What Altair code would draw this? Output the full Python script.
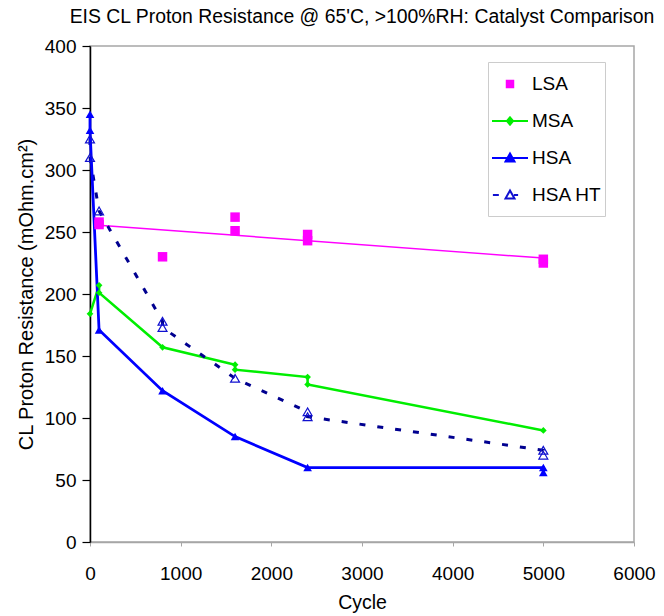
import altair as alt
import pandas as pd

# ---- data ----
lsa_cycle = [100, 100, 800, 1600, 1600, 2400, 2400, 5000, 5000]
lsa_value = [256, 258, 230, 262, 251, 248, 243, 228, 225]

msa_cycle = [0, 100, 100, 800, 1600, 1600, 2400, 2400, 5000]
msa_value = [184, 207, 201, 157, 143, 139, 133, 127, 90]

hsa_cycle = [0, 0, 100, 800, 1600, 2400, 5000, 5000]
hsa_value = [345, 332, 171, 122, 85, 60, 60, 56]

hsaht_cycle = [0, 0, 100, 800, 800, 1600, 2400, 2400, 5000, 5000]
hsaht_value = [325, 310, 267, 178, 173, 132, 105, 101, 74, 70]

series_names = ["LSA", "MSA", "HSA", "HSA HT"]
x_ticks = [0, 1000, 2000, 3000, 4000, 5000, 6000]
y_ticks = [0, 50, 100, 150, 200, 250, 300, 350, 400]

title_text = "EIS CL Proton Resistance @ 65'C, >100%RH: Catalyst Comparison"
x_title = "Cycle"
y_title = "CL Proton Resistance (mOhm.cm\u00b2)"

rows = []
for name, xs, ys in [("LSA", lsa_cycle, lsa_value), ("MSA", msa_cycle, msa_value),
                     ("HSA", hsa_cycle, hsa_value), ("HSA HT", hsaht_cycle, hsaht_value)]:
    for i, (c, v) in enumerate(zip(xs, ys)):
        rows.append({"series": name, "cycle": c, "value": v, "idx": i})
df = pd.DataFrame(rows)

FONT = "Liberation Sans"

x_enc = alt.X("cycle:Q", scale=alt.Scale(domain=[0, 6000], nice=False),
              axis=alt.Axis(values=x_ticks, title=x_title, grid=False, format="d",
                            domainColor="#a6a6a6", domainWidth=1.5,
                            tickColor="#a6a6a6", tickSize=4,
                            labelFont=FONT, labelFontSize=19, labelColor="#000000",
                            labelPadding=18, labelFlush=False,
                            titleFont=FONT, titleFontSize=19.5, titleFontWeight="normal",
                            titleColor="#000000", titlePadding=10))
y_enc = alt.Y("value:Q", scale=alt.Scale(domain=[0, 400], nice=False),
              axis=alt.Axis(values=y_ticks, title=y_title, grid=False,
                            domainColor="#000000", domainWidth=1.5,
                            tickColor="#000000", tickSize=8, tickWidth=1.2,
                            labelFont=FONT, labelFontSize=19, labelColor="#000000",
                            labelPadding=6, labelFlush=False,
                            titleFont=FONT, titleFontSize=20, titleFontWeight="normal",
                            titleColor="#000000", titlePadding=8))

base = alt.Chart(df)


def sel(name):
    return base.transform_filter(alt.datum.series == name)


lsa_trend = sel("LSA").transform_regression("cycle", "value").mark_line(
    color="#ff00ff", strokeWidth=1.5).encode(x=x_enc, y=y_enc)

msa_line = sel("MSA").mark_line(color="#00ee00", strokeWidth=2.5).encode(
    x=x_enc, y=y_enc, order="idx:Q")
msa_pts = sel("MSA").mark_point(shape="diamond", filled=True, size=45, color="#00ee00",
                                opacity=1).encode(x=x_enc, y=y_enc)

hsaht_line = sel("HSA HT").mark_line(color="#000090", strokeWidth=3, strokeDash=[6, 12]).encode(
    x=x_enc, y=y_enc, order="idx:Q")
hsaht_pts = sel("HSA HT").mark_point(shape="triangle-up", filled=False, size=80, color="#1010d0",
                                     strokeWidth=1.2, opacity=1).encode(x=x_enc, y=y_enc)

hsa_line = sel("HSA").mark_line(color="#0000ff", strokeWidth=2.8).encode(
    x=x_enc, y=y_enc, order="idx:Q")
hsa_pts = sel("HSA").mark_point(shape="triangle-up", filled=True, size=75, color="#0000ff",
                                opacity=1).encode(x=x_enc, y=y_enc)

lsa_pts = sel("LSA").mark_square(size=90, color="#ff00ff", opacity=1).encode(x=x_enc, y=y_enc)

# legend-only layer (no rows survive the filter; explicit domains give the legend entries)
# each path starts with two moves that fix identical bounds for every entry
EXT = "M-1,-0.75M1,0.75"
legend_paths = [
    EXT + "M-0.18,-0.18L0.18,-0.18L0.18,0.18L-0.18,0.18Z",
    EXT + "M-1,0L1,0M0,-0.2L0.17,0L0,0.2L-0.17,0Z",
    EXT + "M-1,0L1,0M0,-0.25L0.25,0.2L-0.25,0.2Z",
    EXT + "M-0.95,0L-0.62,0M0.22,0L0.45,0M0,-0.25L0.25,0.2L-0.25,0.2Z",
]
legend_strokes = ["#ff00ff", "#00ee00", "#0000ff", "#1010d0"]
legend_fills = ["#ff00ff", "#00ee00", "#0000ff", "#ffffff"]

leg = alt.Legend(title=None, orient="none", legendX=398, legendY=16,
                 fillColor="#ffffff", strokeColor="#cccccc", padding=3,
                 rowPadding=0, symbolSize=1296, symbolStrokeWidth=2,
                 labelFont=FONT, labelFontSize=19, labelColor="#000000",
                 labelOffset=3, symbolOpacity=1)

legend_layer = base.transform_filter("false").mark_point(filled=False, opacity=1).encode(
    x=x_enc, y=y_enc,
    shape=alt.Shape("series:N", scale=alt.Scale(domain=series_names, range=legend_paths), legend=leg),
    color=alt.Color("series:N", scale=alt.Scale(domain=series_names, range=legend_strokes), legend=leg),
    fill=alt.Fill("series:N", scale=alt.Scale(domain=series_names, range=legend_fills), legend=leg),
)

chart = alt.layer(
    lsa_trend, msa_line, hsaht_line, hsa_line, msa_pts, hsaht_pts, hsa_pts, lsa_pts, legend_layer
).properties(
    width=544, height=496,
    title=alt.Title(title_text, font=FONT, fontSize=19.4, fontWeight="normal", color="#000000",
                    anchor="middle", offset=10),
    autosize=alt.AutoSizeParams(type="none"),
    padding={"left": 90, "top": 46, "right": 30, "bottom": 74},
).configure_view(stroke="#a6a6a6", strokeWidth=1.5)

chart.save("out.html", embed_options={"renderer": "svg", "actions": False})
